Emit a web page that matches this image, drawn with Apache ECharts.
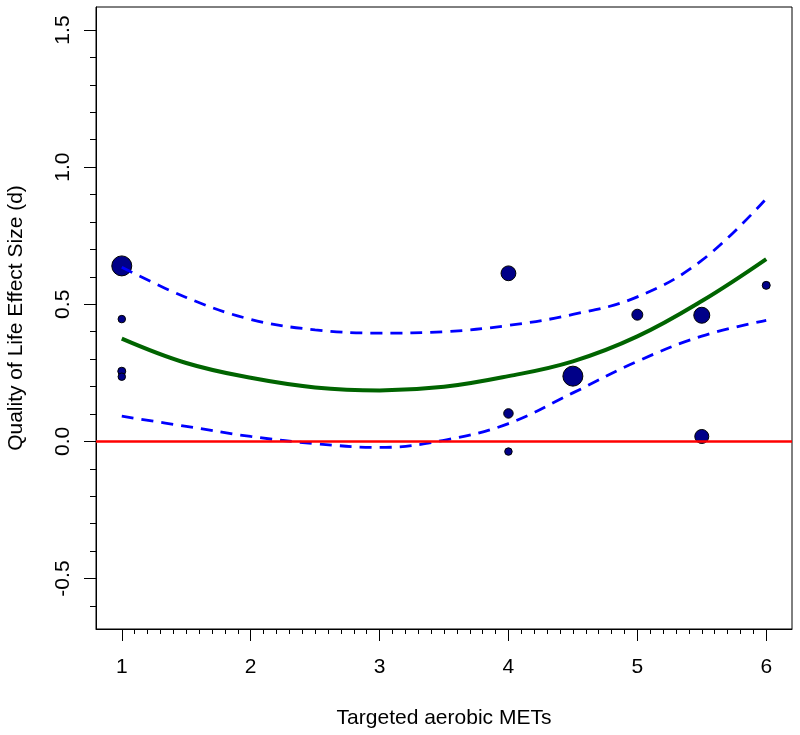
<!DOCTYPE html>
<html>
<head>
<meta charset="utf-8">
<script src="https://cdn.jsdelivr.net/npm/echarts@6/dist/echarts.min.js"></script>
<style>
html,body{margin:0;padding:0;background:#fff;}
#chart{width:800px;height:735px;}
</style>
</head>
<body>
<div id="chart"></div>
<script>
// Study points: targeted METs, effect size, relative study weight
const studyMETs   = [1, 1, 1, 1, 4, 4, 4, 4.5, 5, 5.5, 5.5, 6];
const studyEffect = [0.640, 0.446, 0.256, 0.236, 0.613, 0.102, -0.037, 0.238, 0.462, 0.460, 0.018, 0.569];
const studyWeight = [4.0, 0.56, 0.64, 0.56, 2.2, 0.9, 0.56, 4.0, 1.2, 2.56, 1.96, 0.64];

// Fitted meta-regression curve and confidence bounds
const curveMETs  = [1, 1.5, 2, 2.5, 3, 3.5, 4, 4.5, 5, 5.5, 6];
const fitValues  = [0.375, 0.286, 0.232, 0.197, 0.186, 0.199, 0.238, 0.292, 0.383, 0.512, 0.665];
const upperCI    = [0.635, 0.525, 0.445, 0.407, 0.395, 0.400, 0.423, 0.463, 0.527, 0.660, 0.885];
const lowerCI    = [0.092, 0.055, 0.018, -0.008, -0.022, 0.004, 0.065, 0.177, 0.292, 0.384, 0.441];

// Axis ticks
const xTickLabels = [1, 2, 3, 4, 5, 6];
const yTickLabels = [-0.5, 0, 0.5, 1.0, 1.5];
const xRange = [0.8, 6.2];
const yRange = [-0.684, 1.584];

const xMinor = [];
for (let i = 10; i <= 60; i++) { if (i % 10 !== 0) xMinor.push(i / 10); }
const yMinor = [];
for (let i = -6; i <= 15; i++) { if (i % 5 !== 0) yMinor.push(i / 10); }

const FONT = 'Liberation Sans, Arial, sans-serif';
const FS = 21;

const pair = (xs, ys) => xs.map((x, i) => [x, ys[i]]);

const chart = echarts.init(document.getElementById('chart'));
chart.setOption({
  animation: false,
  backgroundColor: '#fff',
  grid: {
    left: 96, right: 8, top: 7, bottom: 106,
    containLabel: false, outerBoundsMode: 'none',
    show: true, borderColor: '#000', borderWidth: 1, backgroundColor: 'transparent'
  },
  xAxis: [{
    type: 'value', min: xRange[0], max: xRange[1], position: 'bottom',
    name: 'Targeted aerobic METs', nameLocation: 'middle', nameGap: 79,
    nameTextStyle: { fontFamily: FONT, fontSize: FS, color: '#000' },
    axisLine: { show: true, onZero: false, lineStyle: { color: '#000', width: 1 } },
    axisTick: { show: true, customValues: xTickLabels, length: 12, lineStyle: { color: '#000', width: 1 } },
    axisLabel: { customValues: xTickLabels, fontFamily: FONT, fontSize: FS, color: '#000', margin: 28,
                 formatter: v => String(v) },
    splitLine: { show: false }
  }, {
    type: 'value', min: xRange[0], max: xRange[1], position: 'bottom', gridIndex: 0,
    axisLine: { show: false, onZero: false },
    axisTick: { show: true, customValues: xMinor, length: 5, lineStyle: { color: '#000', width: 1 } },
    axisLabel: { show: false },
    splitLine: { show: false }
  }],
  yAxis: [{
    type: 'value', min: yRange[0], max: yRange[1], position: 'left',
    name: 'Quality of Life Effect Size (d)', nameLocation: 'middle', nameGap: 69,
    nameTextStyle: { fontFamily: FONT, fontSize: FS, color: '#000' },
    axisLine: { show: true, onZero: false, lineStyle: { color: '#000', width: 1 } },
    axisTick: { show: true, customValues: yTickLabels, length: 12, lineStyle: { color: '#000', width: 1 } },
    axisLabel: { customValues: yTickLabels, rotate: 90, fontFamily: FONT, fontSize: FS, color: '#000', margin: 22,
                 formatter: v => v.toFixed(1) },
    splitLine: { show: false }
  }, {
    type: 'value', min: yRange[0], max: yRange[1], position: 'left', gridIndex: 0,
    axisLine: { show: false, onZero: false },
    axisTick: { show: true, customValues: yMinor, length: 6, lineStyle: { color: '#000', width: 1 } },
    axisLabel: { show: false },
    splitLine: { show: false }
  }],
  series: [{
    type: 'scatter', z: 1,
    data: studyMETs.map((x, i) => [x, studyEffect[i], studyWeight[i]]),
    symbol: 'circle',
    symbolSize: d => 10 * Math.sqrt(d[2]),
    itemStyle: { color: '#000088', borderColor: '#000', borderWidth: 1, opacity: 1 }
  }, {
    type: 'line', z: 2,
    data: [],
    markLine: {
      silent: true, symbol: ['none', 'none'], animation: false,
      label: { show: false },
      lineStyle: { color: '#ff0000', width: 2.5, type: 'solid' },
      data: [{ yAxis: 0 }]
    }
  }, {
    type: 'line', z: 3, smooth: 0.4, showSymbol: false, symbol: 'none',
    data: pair(curveMETs, upperCI),
    lineStyle: { color: '#0000ff', width: 2.8, type: [12, 8] }
  }, {
    type: 'line', z: 3, smooth: 0.4, showSymbol: false, symbol: 'none',
    data: pair(curveMETs, lowerCI),
    lineStyle: { color: '#0000ff', width: 2.8, type: [12, 8] }
  }, {
    type: 'line', z: 3, smooth: 0.4, showSymbol: false, symbol: 'none',
    data: pair(curveMETs, fitValues),
    lineStyle: { color: '#006400', width: 4 }
  }]
});
</script>
</body>
</html>
